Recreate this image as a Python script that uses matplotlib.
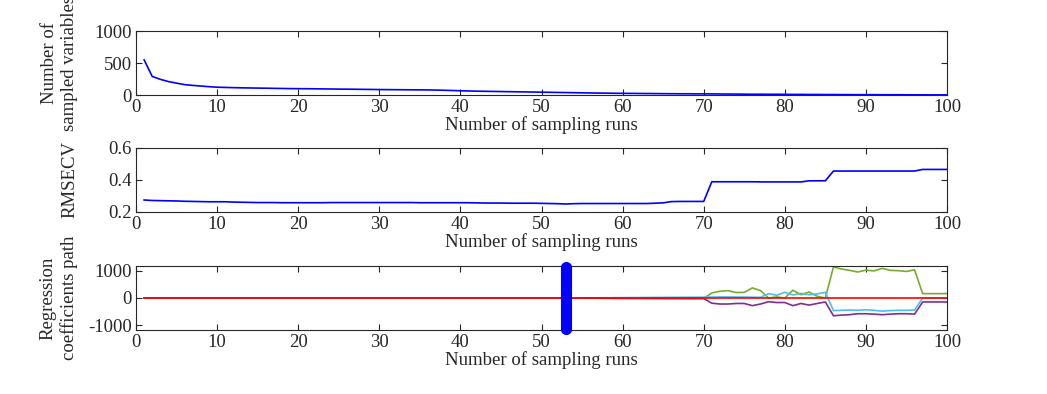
import numpy as np
import matplotlib
matplotlib.use("Agg")
import matplotlib.pyplot as plt

plt.rcParams['font.family'] = ['Liberation Serif', 'DejaVu Serif']
plt.rcParams['mathtext.fontset'] = 'stix'

runs = list(range(1, 101))

n_vars = [550, 290, 245, 210, 185, 162, 150, 140, 130, 122,
          118, 115, 112, 110, 108, 106, 104, 102, 100, 99,
          98, 97, 95, 94, 92, 91, 90, 88, 87, 85,
          84, 83, 82, 81, 80, 79, 77, 74, 70, 66,
          63, 60, 58, 56, 54, 52, 50, 48, 46, 44,
          42, 40, 38, 36, 34, 32, 30, 29, 27, 26,
          25, 24, 23, 22, 21, 20, 19, 19, 18, 18,
          17, 16, 15, 14, 13, 12, 12, 11, 11, 10,
          9, 9, 8, 8, 7, 7, 6, 6, 5, 5,
          5, 4, 4, 4, 3, 3, 3, 2, 2, 2]

rmsecv = [0.275, 0.272, 0.271, 0.270, 0.269, 0.267, 0.266, 0.265, 0.264, 0.264,
          0.264, 0.262, 0.261, 0.260, 0.259, 0.259, 0.259, 0.258, 0.258, 0.258,
          0.258, 0.258, 0.258, 0.259, 0.259, 0.259, 0.259, 0.259, 0.259, 0.259,
          0.259, 0.259, 0.259, 0.259, 0.258, 0.258, 0.258, 0.258, 0.258, 0.258,
          0.258, 0.257, 0.256, 0.256, 0.256, 0.255, 0.255, 0.255, 0.255, 0.254,
          0.253, 0.252, 0.250, 0.252, 0.253, 0.253, 0.253, 0.253, 0.253, 0.253,
          0.253, 0.253, 0.253, 0.255, 0.257, 0.265, 0.266, 0.266, 0.266, 0.266,
          0.389, 0.389, 0.389, 0.389, 0.389, 0.389, 0.388, 0.388, 0.388, 0.388,
          0.388, 0.388, 0.395, 0.395, 0.395, 0.456, 0.456, 0.456, 0.456, 0.456,
          0.456, 0.456, 0.456, 0.456, 0.456, 0.456, 0.466, 0.466, 0.466, 0.466]

coef_green = [0] * 54 + [-5, -8, -10, -12, -14, -15, -16, -17, -18, -19, -20, -20, -20, -20, -20, -15] + \
             [185, 245, 270, 200, 205, 370, 270, 0, 40, 0,
              285, 120, 220, 60, 0, 1135, 1060, 1010, 950, 1020,
              990, 1085, 1010, 1000, 970, 1030, 160, 160, 160, 160]
coef_cyan = [0] * 54 + [3, 5, 7, 9, 11, 13, 15, 17, 19, 21, 23, 25, 27, 28, 30, 30] + \
            [35, 40, 40, 38, 35, 30, 25, 160, 100, 210,
             110, 170, 120, 150, 210, -460, -450, -440, -450, -430,
             -450, -480, -460, -450, -450, -440, 0, 0, 0, 0]
coef_purple = [0] * 54 + [-3, -5, -6, -8, -10, -11, -12, -13, -14, -15, -16, -17, -18, -19, -20, -20] + \
              [-190, -220, -220, -200, -200, -280, -220, -135, -165, -165,
               -280, -200, -260, -200, -145, -650, -625, -610, -575, -575,
               -590, -610, -590, -575, -575, -590, -145, -145, -145, -145]
coef_red = [0] * 100

opt_run = 53
coef_ylim = [-1170, 1170]

xticks = list(range(0, 101, 10))

fig = plt.figure(figsize=(10.47, 3.94), dpi=100)
left, width = 136 / 1047, 811 / 1047
h = 64 / 394
ax1 = fig.add_axes([left, 1 - 95 / 394, width, h])
ax2 = fig.add_axes([left, 1 - 212 / 394, width, h])
ax3 = fig.add_axes([left, 1 - 330 / 394, width, h])

fs = 13.5
lab_x = (78 - 136) / 811

ax1.plot(runs, n_vars, color='blue', lw=1.2)
ax1.set_ylim(0, 1000)
ax1.set_yticks([0, 500, 1000])
ax1.set_ylabel('Number of\nsampled variables', fontsize=fs, linespacing=1.25)

ax2.plot(runs, rmsecv, color='blue', lw=1.2)
ax2.set_ylim(0.2, 0.6)
ax2.set_yticks([0.2, 0.4, 0.6])
ax2.set_yticklabels(['0.2', '0.4', '0.6'])
ax2.set_ylabel('RMSECV', fontsize=fs)

ax3.plot(runs, coef_green, color=(0.466, 0.674, 0.188), lw=1.2)
ax3.plot(runs, coef_cyan, color=(0.301, 0.745, 0.933), lw=1.2)
ax3.plot(runs, coef_purple, color=(0.494, 0.184, 0.556), lw=1.2)
ax3.plot(runs, coef_red, color='red', lw=1.2)
yy = np.linspace(coef_ylim[0] + 40, coef_ylim[1] - 40, 60)
ax3.plot([opt_run] * len(yy), yy, color='blue', lw=6, marker='o', ms=7,
         solid_capstyle='round', clip_on=False, zorder=5)
ax3.set_ylim(*coef_ylim)
ax3.set_yticks([-1000, 0, 1000])
ax3.set_yticklabels(['-1000', '0', '1000'])
ax3.set_ylabel('Regression\ncoefficients path', fontsize=fs, linespacing=1.25)

for ax in (ax1, ax2, ax3):
    ax.set_xlim(0, 100)
    ax.set_xticks(xticks)
    ax.tick_params(direction='in', top=True, right=True, length=4, width=0.8,
                   labelsize=fs, pad=3, colors='#262626')
    for sp in ax.spines.values():
        sp.set_linewidth(0.8)
        sp.set_color('#262626')
    ax.set_xlabel('Number of sampling runs', fontsize=fs, labelpad=0, color='#262626')
    ax.yaxis.label.set_color('#262626')
    ax.yaxis.set_label_coords(lab_x, 0.5)

fig.savefig('out.png', dpi=100)
